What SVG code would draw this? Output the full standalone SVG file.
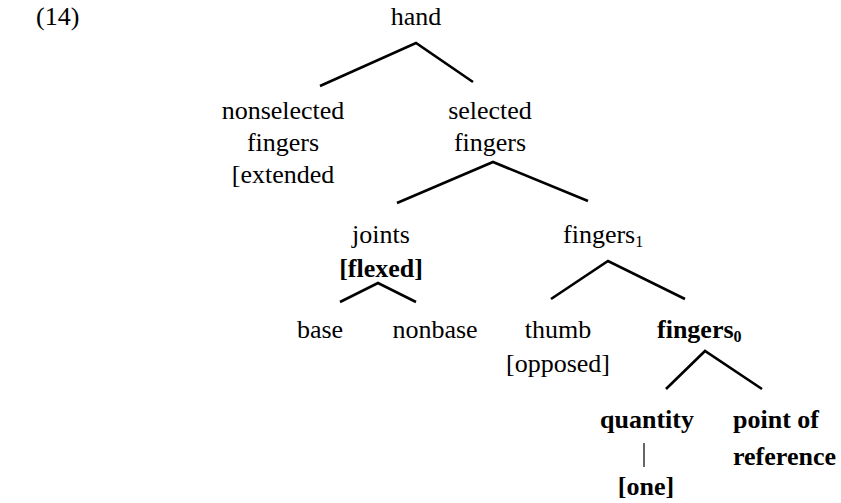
<svg xmlns="http://www.w3.org/2000/svg" width="841" height="503" viewBox="0 0 841 503">
  <style>
    text { font-family: 'Liberation Serif', Tinos, 'Times New Roman', Times, 'DejaVu Serif', serif; font-size: 26px; fill: #000; }
    .c { text-anchor: middle; }
    .b { font-weight: bold; }
    .sub { font-size: 16px; }
    .edge { stroke: #000; stroke-width: 2.6; fill: none; stroke-linecap: butt; }
    .stem { stroke: #000; stroke-width: 1.2; }
  </style>
  <rect width="841" height="503" fill="#fff"/>

  <g id="connectors">
    <polyline class="edge" points="320,86 416,43 473,82"/>
    <polyline class="edge" points="397,203 493,162 588,201"/>
    <polyline class="edge" points="340,302 378,283 416,302"/>
    <polyline class="edge" points="551,299 608,261 685,299"/>
    <polyline class="edge" points="666,389 705,351 762,389"/>
    <line class="stem" x1="644" y1="443" x2="644" y2="467"/>
  </g>

  <g id="label-14"><text x="36" y="25">(14)</text></g>
  <g id="hand"><text class="c" x="416" y="25">hand</text></g>
  <g id="nonselected-fingers">
    <text class="c" x="283" y="119">nonselected</text>
    <text class="c" x="283" y="151">fingers</text>
    <text class="c" x="283" y="183">[extended</text>
  </g>
  <g id="selected-fingers">
    <text class="c" x="490" y="119">selected</text>
    <text class="c" x="490" y="151">fingers</text>
  </g>
  <g id="joints">
    <text class="c" x="381" y="243">joints</text>
    <text class="c b" x="381" y="277">[flexed]</text>
  </g>
  <g id="fingers1">
    <text x="563" y="243">fingers<tspan class="sub" dy="4">1</tspan></text>
  </g>
  <g id="base"><text class="c" x="320" y="338">base</text></g>
  <g id="nonbase"><text class="c" x="435" y="338">nonbase</text></g>
  <g id="thumb">
    <text class="c" x="558" y="338">thumb</text>
    <text class="c" x="558" y="372">[opposed]</text>
  </g>
  <g id="fingers0">
    <text class="b" x="657" y="338">fingers<tspan class="sub" dy="4">0</tspan></text>
  </g>
  <g id="quantity">
    <text class="c b" x="647" y="428">quantity</text>
    <text class="c b" x="646" y="495">[one]</text>
  </g>
  <g id="point-of-reference">
    <text class="b" x="733" y="428">point of</text>
    <text class="b" x="733" y="465">reference</text>
  </g>
</svg>
